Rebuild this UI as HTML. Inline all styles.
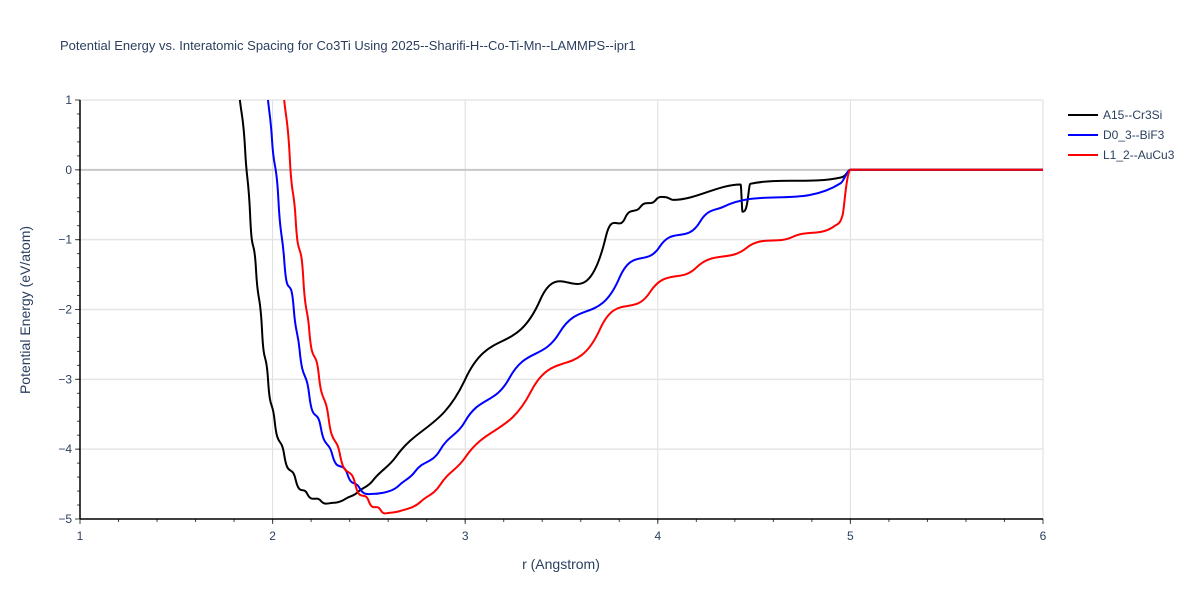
<!DOCTYPE html>
<html><head><meta charset="utf-8"><style>
body{margin:0;background:#fff;font-family:"Liberation Sans",sans-serif}
svg text{font-family:"Liberation Sans",sans-serif}
</style></head><body>
<svg id="chart" width="1200" height="600" xmlns="http://www.w3.org/2000/svg">
<rect width="1200" height="600" fill="#fff"/>
<text x="60" y="50" font-size="13" fill="#2a3f5f">Potential Energy vs. Interatomic Spacing for Co3Ti Using 2025--Sharifi-H--Co-Ti-Mn--LAMMPS--ipr1</text>
<g id="grid"></g><g id="series"></g><g id="axes"></g>
<text x="561" y="569" font-size="14" fill="#2a3f5f" text-anchor="middle">r (Angstrom)</text>
<text transform="translate(30,310) rotate(-90)" font-size="14" fill="#2a3f5f" text-anchor="middle">Potential Energy (eV/atom)</text>
<g id="legend"></g>
</svg>
<script>
const xTicks=[1,2,3,4,5,6];
const yTicks=[1,0,-1,-2,-3,-4,-5];
const seriesNames=["A15--Cr3Si","D0_3--BiF3","L1_2--AuCu3"];
const seriesColors=["#000000","#0000ff","#ff0000"];
const a15R=[1.83,1.857,1.883,1.914,1.945,1.976,2.01,2.06,2.12,2.18,2.25,2.31,2.38,2.44,2.52,2.64,3.0,3.39,3.73,3.83,3.91,3.99,4.04,4.08,4.43,4.44,4.47,4.48,4.95,4.975,5.0,6.0];
const a15E=[1.0,0.29,-0.64,-1.43,-2.29,-3.0,-3.58,-4.08,-4.44,-4.64,-4.74,-4.77,-4.71,-4.62,-4.45,-4.11,-3.0,-1.86,-0.96,-0.69,-0.53,-0.43,-0.39,-0.43,-0.21,-0.6,-0.36,-0.2,-0.11,-0.07,0,0];
const d03R=[1.976,1.997,2.03,2.06,2.11,2.14,2.19,2.25,2.31,2.39,2.45,2.52,2.58,2.66,2.74,2.87,3.0,3.23,3.49,3.8,4.01,4.22,4.34,4.95,5.0,6.0];
const d03E=[1.0,0.43,-0.43,-1.29,-2.0,-2.58,-3.22,-3.69,-4.08,-4.37,-4.55,-4.64,-4.62,-4.51,-4.32,-4.01,-3.6,-2.98,-2.33,-1.55,-1.1,-0.74,-0.53,-0.19,0,0];
const l12R=[2.06,2.09,2.12,2.16,2.19,2.24,2.29,2.35,2.43,2.5,2.56,2.61,2.67,2.77,2.87,3.0,3.34,3.7,3.96,4.2,4.46,4.7,4.92,4.96,4.97,5.0,6.0];
const l12E=[1.0,0.14,-0.72,-1.58,-2.29,-2.94,-3.55,-4.08,-4.51,-4.75,-4.87,-4.91,-4.88,-4.75,-4.51,-4.12,-3.18,-2.28,-1.75,-1.4,-1.12,-0.96,-0.8,-0.64,-0.43,0,0];
const seriesR=[a15R,d03R,l12R], seriesE=[a15E,d03E,l12E];
const X0=80,X1=1043,Y0=100,Y1=519;
const sx=r=>X0+(r-1)/(6-1)*(X1-X0);
const sy=e=>Y0+(1-e)/(1-(-5))*(Y1-Y0);
const NS="http://www.w3.org/2000/svg";
function mk(tag,attrs,parent){const el=document.createElementNS(NS,tag);for(const k in attrs)el.setAttribute(k,attrs[k]);parent.appendChild(el);return el;}
function monoPath(xs,ys){
 const n=xs.length,d=[],m=new Array(n);
 for(let i=0;i<n-1;i++)d.push((ys[i+1]-ys[i])/(xs[i+1]-xs[i]));
 m[0]=d[0];m[n-1]=d[n-2];
 for(let i=1;i<n-1;i++){m[i]=(d[i-1]*d[i]<=0)?0:3*(xs[i+1]-xs[i-1])/((2*xs[i+1]-xs[i]-xs[i-1])/d[i-1]+(xs[i+1]-2*xs[i]+xs[i-1])/d[i]);}
 let p='M'+xs[0].toFixed(1)+','+ys[0].toFixed(1);
 for(let i=0;i<n-1;i++){const h=(xs[i+1]-xs[i])/3;
  p+='C'+(xs[i]+h).toFixed(1)+','+(ys[i]+m[i]*h).toFixed(1)+' '+(xs[i+1]-h).toFixed(1)+','+(ys[i+1]-m[i+1]*h).toFixed(1)+' '+xs[i+1].toFixed(1)+','+ys[i+1].toFixed(1);}
 return p;
}
const grid=document.getElementById('grid'),axes=document.getElementById('axes'),ser=document.getElementById('series'),leg=document.getElementById('legend');
xTicks.forEach(t=>{
 if(t>1){const l=mk('line',{x1:sx(t),x2:sx(t),y1:Y0,y2:Y1,stroke:'#dddddd','stroke-width':1},grid);
 
 }
 const tx=mk('text',{x:sx(t),y:Y1+21,'font-size':12,fill:'#2a3f5f','text-anchor':'middle'},axes);tx.textContent=t;
 
 
 mk('line',{x1:sx(t),x2:sx(t),y1:Y1,y2:Y1+5,stroke:'#444','stroke-width':1},axes);
});
for(let i=0;i<=25;i++){const r=1+i*0.2;mk('line',{x1:sx(r),x2:sx(r),y1:Y1,y2:Y1+3,stroke:'#444','stroke-width':1},axes);}
for(let i=0;i<=30;i++){const e=-5+i*0.2;mk('line',{x1:X0-3,x2:X0,y1:sy(e),y2:sy(e),stroke:'#444','stroke-width':1},axes);}
yTicks.forEach(t=>{
 if(t>-5){const l=mk('line',{x1:X0,x2:X1,y1:sy(t),y2:sy(t),stroke:t===0?'#c8c8c8':'#e5e5e5','stroke-width':t===0?2:1.5},grid);
 
 }
 const tx=mk('text',{x:X0-8,y:sy(t)+4,'font-size':12,fill:'#2a3f5f','text-anchor':'end'},axes);tx.textContent=(t<0?'\u2212'+(-t):t);
 
 
 mk('line',{x1:X0-5,x2:X0,y1:sy(t),y2:sy(t),stroke:'#444','stroke-width':1},axes);
});
const xa=mk('line',{x1:X0,x2:X1,y1:Y1,y2:Y1,stroke:'#000','stroke-width':1.5},axes);


const ya=mk('line',{x1:X0,x2:X0,y1:Y0,y2:Y1,stroke:'#000','stroke-width':1.5},axes);


const cp=mk('clipPath',{id:'clip'},document.getElementById('chart'));mk('rect',{x:X0,y:Y0-2,width:X1-X0,height:Y1-Y0+2},cp);
seriesNames.forEach((n,i)=>{
 const d=monoPath(seriesR[i].map(sx),seriesE[i].map(sy));
 const p=mk('path',{d:d,fill:'none',stroke:seriesColors[i],'stroke-width':2,'clip-path':'url(#clip)','stroke-linejoin':'round'},ser);
 
 
 const g=mk('g',{},leg);
 
 
 const y=115+i*20;
 mk('line',{x1:1068,x2:1098,y1:y,y2:y,stroke:seriesColors[i],'stroke-width':2},g);
 const t=mk('text',{x:1103,y:y+4,'font-size':12,fill:'#2a3f5f'},g);t.textContent=n;
});
</script>
</body></html>
